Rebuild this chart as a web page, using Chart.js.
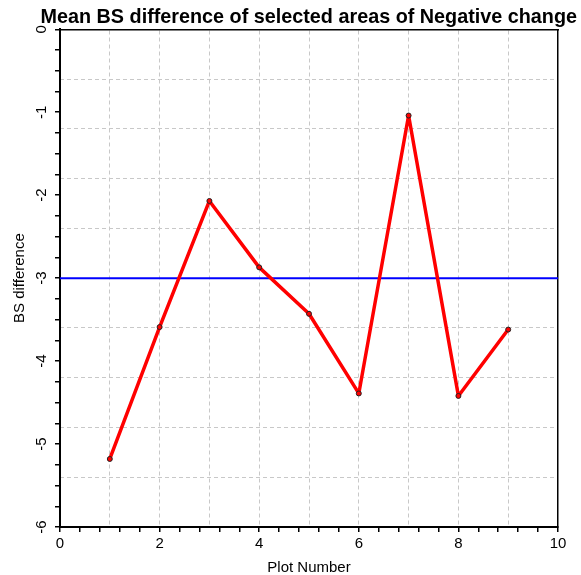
<!DOCTYPE html>
<html>
<head>
<meta charset="utf-8">
<script src="https://cdn.jsdelivr.net/npm/chart.js@4/dist/chart.umd.min.js"></script>
<style>
  html, body { margin: 0; padding: 0; background: #fff; }
  #wrap { width: 581px; height: 575px; }
</style>
</head>
<body>
<div id="wrap"><canvas id="chart" width="581" height="575"></canvas></div>
<script>
// values
const plotNumbers = [1, 2, 3, 4, 5, 6, 7, 8, 9];
const bsDifference = [-5.18, -3.59, -2.07, -2.87, -3.43, -4.39, -1.04, -4.42, -3.62];
const referenceLevel = -3;
const xRange = [0, 10];
const yRange = [-6, 0];

const gridColor = "#c8c8c8";
const font = "'Liberation Sans', Arial, sans-serif";

const points = plotNumbers.map((x, i) => ({ x: x, y: bsDifference[i] }));
const refLine = xRange.map((x) => ({ x: x, y: referenceLevel }));

// hide the dashed grid line where it would sit on the frame
function innerGrid(lo, hi) {
  return (c) => {
    if (!c.tick) return gridColor;
    const v = c.tick.value;
    return (v <= lo + 1e-9 || v >= hi - 1e-9) ? "rgba(0,0,0,0)" : gridColor;
  };
}

const isWhole = (v, step) => Math.abs(v / step - Math.round(v / step)) < 1e-6;

const ctx = document.getElementById("chart").getContext("2d");
new Chart(ctx, {
  type: "line",
  data: {
    datasets: [
      {
        data: points,
        borderColor: "#ff0000",
        borderWidth: 3.5,
        borderJoinStyle: "round",
        borderCapStyle: "round",
        pointRadius: 2.5,
        pointBorderWidth: 1,
        pointBorderColor: "#222",
        pointBackgroundColor: "#ff0000",
        tension: 0,
      },
      {
        data: refLine,
        borderColor: "#0000ff",
        borderWidth: 2,
        pointRadius: 0,
      },
    ],
  },
  options: {
    responsive: false,
    animation: false,
    events: [],
    layout: { padding: { left: 0, right: 4, top: 0, bottom: 0 } },
    plugins: {
      legend: { display: false },
      tooltip: { enabled: false },
      title: {
        display: true,
        text: "Mean BS difference of selected areas of Negative change",
        align: "end",
        color: "#000",
        font: { family: font, size: 19.8, weight: "bold" },
        padding: { top: 5.5, bottom: 0 },
      },
    },
    scales: {
      x: {
        type: "linear",
        position: "bottom",
        min: xRange[0],
        max: xRange[1],
        z: 1,
        afterFit: (s) => { s.height = 48; },
        ticks: {
          stepSize: 0.4,
          autoSkip: false,
          maxRotation: 0,
          padding: 2.5,
          color: "#000",
          font: { family: font, size: 15 },
          callback: (v) => (isWhole(v, 2) ? String(Math.round(v)) : ""),
        },
        grid: { drawOnChartArea: false, color: "#000", lineWidth: 1.5, tickLength: 5 },
        border: { color: "#000", width: 2 },
        title: {
          display: true,
          text: "Plot Number",
          color: "#000",
          font: { family: font, size: 15 },
          padding: { top: 3.5, bottom: -1.5 },
        },
      },
      y: {
        type: "linear",
        position: "left",
        min: yRange[0],
        max: yRange[1],
        z: 1,
        afterFit: (s) => { s.width = 60; },
        ticks: {
          stepSize: 0.25,
          autoSkip: false,
          minRotation: 90,
          maxRotation: 90,
          crossAlign: "center",
          padding: 6.3,
          color: "#000",
          font: { family: font, size: 15 },
          callback: (v) => (isWhole(v, 1) ? String(Math.round(v)) : ""),
        },
        grid: { drawOnChartArea: false, color: "#000", lineWidth: 1.5, tickLength: 5 },
        border: { color: "#000", width: 2 },
        title: {
          display: true,
          text: "BS difference",
          color: "#000",
          font: { family: font, size: 15 },
          padding: { top: 11, bottom: 0 },
        },
      },
      // dashed grid + top frame
      xg: {
        type: "linear",
        position: "top",
        min: xRange[0],
        max: xRange[1],
        ticks: { display: false, stepSize: 1 },
        grid: { color: innerGrid(xRange[0], xRange[1]), lineWidth: 1, drawTicks: false },
        border: { display: true, color: "#000", width: 1.5, dash: [4, 3] },
      },
      // dashed grid + right frame
      yg: {
        type: "linear",
        position: "right",
        min: yRange[0],
        max: yRange[1],
        ticks: { display: false, stepSize: 0.6 },
        grid: { color: innerGrid(yRange[0], yRange[1]), tickColor: "rgba(0,0,0,0)", lineWidth: 1, drawTicks: true, tickLength: 19 },
        border: { display: true, color: "#000", width: 1.5, dash: [4, 3] },
      },
    },
  },
});
</script>
</body>
</html>
